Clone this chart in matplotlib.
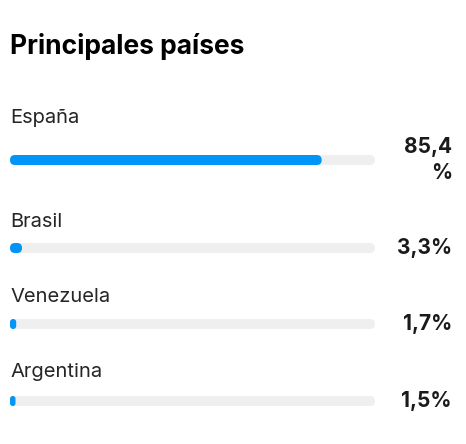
import matplotlib
matplotlib.use("Agg")
import matplotlib.pyplot as plt
from matplotlib.patches import FancyBboxPatch
from matplotlib.transforms import blended_transform_factory

title = "Principales países"
countries = ["España", "Brasil", "Venezuela", "Argentina"]
values = [85.4, 3.3, 1.7, 1.5]
value_labels = ["85,4\n%", "3,3%", "1,7%", "1,5%"]

W, H = 466, 444
fig = plt.figure(figsize=(W / 100, H / 100), dpi=100)
fig.patch.set_facecolor("white")
ax = fig.add_axes([10 / W, 0, 365 / W, 1])
ax.set_xlim(0, 100)
ax.set_ylim(H, 0)
ax.axis("off")

plt.rcParams['font.family'] = ['Inter', 'DejaVu Sans']

bar_y = [160, 248, 324, 401]
label_base = [123, 227, 302, 377]
bar_h = 10
blue = "#0095F6"
track = "#EFEFEF"
xunit_per_px = 100 / 365
aspect = 1 / xunit_per_px

def rbar(x0, w, yc, color):
    r = min(5 * xunit_per_px, w / 2)
    p = FancyBboxPatch((x0, yc - bar_h / 2), w, bar_h,
                       boxstyle=f"round,pad=0,rounding_size={r}",
                       mutation_aspect=aspect, fc=color, ec="none")
    ax.add_patch(p)

tr = blended_transform_factory(fig.transFigure, ax.transData)
fig.text(10 / W, 1 - 54 / H, title, fontsize=19, fontweight="bold",
         color="#000000", ha="left", va="baseline")

for c, v, lab, y, lb in zip(countries, values, value_labels, bar_y, label_base):
    rbar(0, 100, y, track)
    rbar(0, v, y, blue)
    ax.text(10 / W, lb, c, transform=tr, fontsize=14.5, color="#262626",
            ha="left", va="baseline")
    ax.text(452 / W, y, lab, transform=tr, fontsize=15, fontweight="bold",
            color="#1a1a1a", ha="right", va="center", multialignment="right",
            linespacing=1.35)

fig.savefig("out.png", dpi=100, facecolor="white")
